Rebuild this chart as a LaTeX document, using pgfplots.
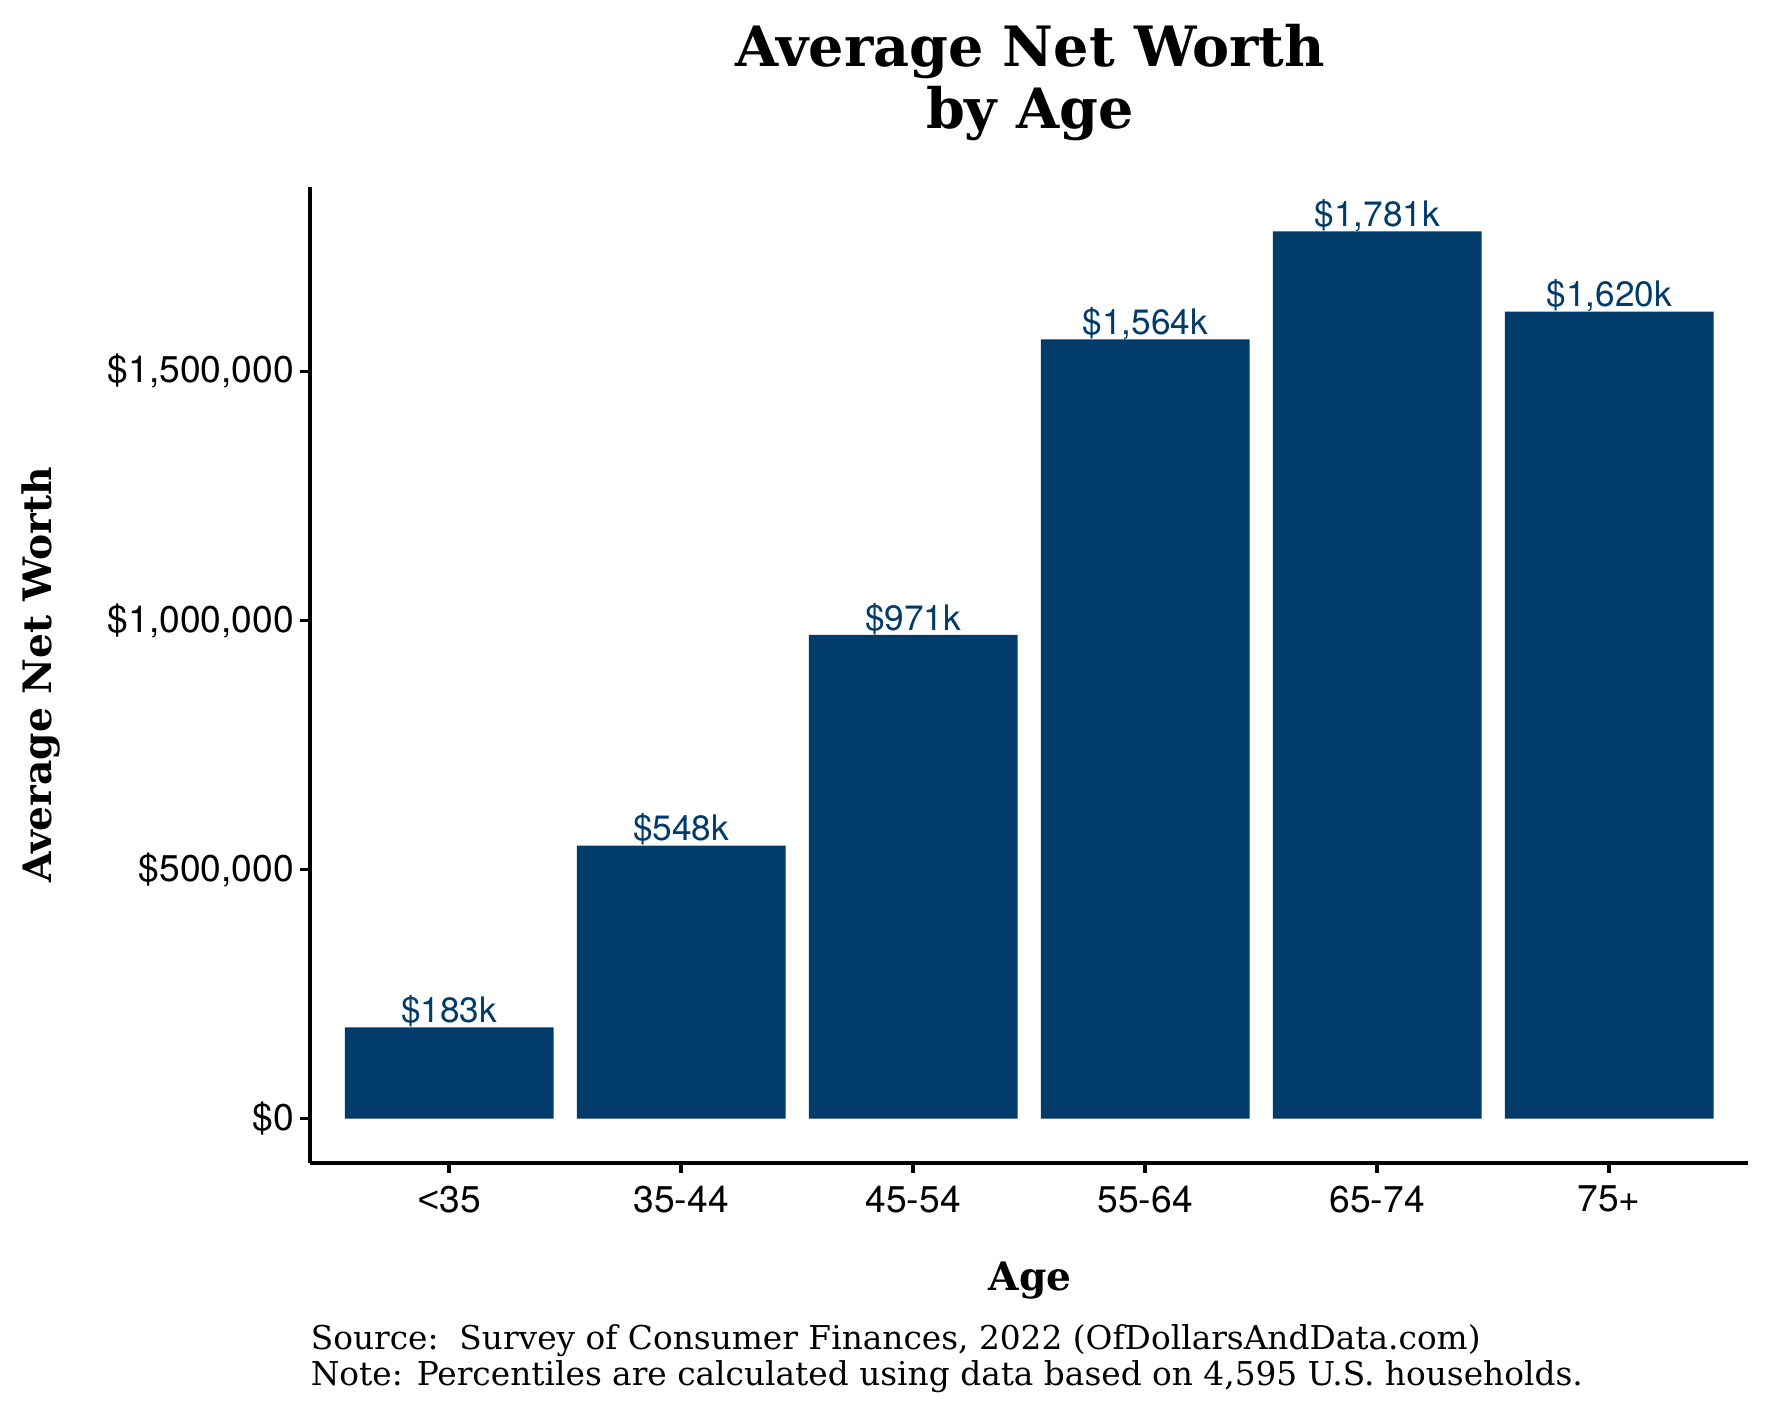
\documentclass[border=0pt]{standalone}
\usepackage{pgfplots}
\pgfplotsset{compat=1.18}
\usepackage{fontspec}
\setmainfont{DejaVu Serif}
\newfontfamily\heros{TeX Gyre Heros}
\newfontfamily\libsans{Liberation Sans}
\definecolor{barblue}{HTML}{003B6A}

\begin{document}
\begin{tikzpicture}
  % page frame, 1px = 0.25pt, origin at the lower left of the panel
  \useasboundingbox (-77.5pt,-63.5pt) rectangle (365.25pt,290.75pt);
  \begin{axis}[
      at={(0pt,0pt)}, anchor=south west,
      scale only axis,
      width=359.6pt, height=244pt,
      xmin=-0.6, xmax=5.6,
      ymin=-89000, ymax=1870000,
      axis x line*=bottom, axis y line*=left,
      axis line style={line width=0.9pt, black},
      tick style={line width=0.9pt, black},
      tick align=outside,
      major tick length=2.5pt,
      xtick={0,1,2,3,4,5},
      xticklabels={{\libsans <}35,35-44,45-54,55-64,65-74,75+},
      ytick={0,500000,1000000,1500000},
      yticklabels={{\$0},{\$500,000},{\$1,000,000},{\$1,500,000}},
      scaled y ticks=false,
      ticklabel style={font=\heros\fontsize{9.3}{10}\selectfont, text=black},
      yticklabel style={xshift=2pt},
      xticklabel style={yshift=0.3pt},
      ybar, bar width=0.9,
    ]
    \addplot[fill=barblue, draw=none,
      point meta=explicit symbolic,
      nodes near coords,
      every node near coord/.append style={font=\heros\fontsize{8.8}{10}\selectfont,
        text=barblue, anchor=base, inner sep=0pt, yshift=1.2pt}]
      coordinates {
        (0,183000) [\$183k]
        (1,548000) [\$548k]
        (2,971000) [\$971k]
        (3,1564000) [\$1,564k]
        (4,1781000) [\$1,781k]
        (5,1620000) [\$1,620k]
      };
  \end{axis}
  \node[anchor=base, inner sep=0pt, font=\bfseries\fontsize{13.9}{17}\selectfont] at (180pt,274pt) {Average Net Worth};
  \node[anchor=base, inner sep=0pt, font=\bfseries\fontsize{13.9}{17}\selectfont] at (180pt,258.5pt) {by Age};
  \node[rotate=90, anchor=base, inner sep=0pt, font=\bfseries\fontsize{9.8}{12}\selectfont] at (-64.5pt,122pt) {Average Net Worth};
  \node[anchor=base, inner sep=0pt, font=\bfseries\fontsize{9.8}{12}\selectfont] at (180pt,-31.75pt) {Age};
  \node[anchor=base west, inner sep=0pt, font=\fontsize{8.2}{9}\selectfont] at (0pt,-46.5pt) {Source:\ \ Survey of Consumer Finances, 2022 (OfDollarsAndData.com)};
  \node[anchor=base west, inner sep=0pt, font=\fontsize{8.2}{9}\selectfont] at (0pt,-55.5pt) {Note: Percentiles are calculated using data based on 4,595 U.S. households.};
\end{tikzpicture}
\end{document}
